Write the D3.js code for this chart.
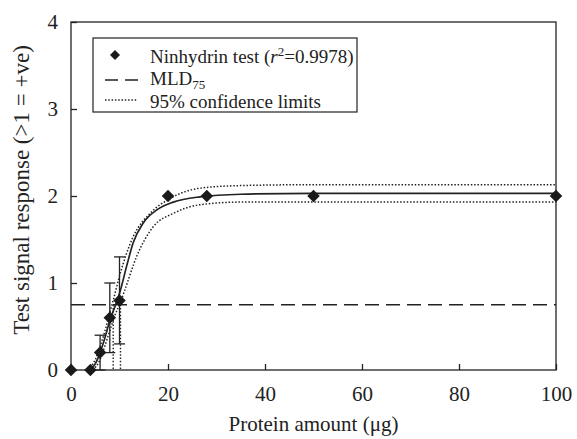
<!DOCTYPE html>
<html>
<head>
<meta charset="utf-8">
<script src="https://cdn.jsdelivr.net/npm/d3@7"></script>
<style>
  body { margin: 0; background: #fff; }
  .axis path, .axis line { stroke: #222; stroke-width: 1.3; }
</style>
</head>
<body>
<svg width="577" height="439"></svg>
<script>
// measured points (protein µg, response)
var protein = [0, 4, 6, 8, 10, 20, 28, 50, 100];
var response = [0, 0, 0.2, 0.6, 0.8, 2, 2, 2, 2];
var errX = [6, 8, 10];
var errMean = [0.2, 0.6, 0.8];
var errSd = [0.2, 0.4, 0.5];

// fitted curve and confidence limits
var fitX = [4, 5, 6, 7, 8, 9, 10, 11.5, 12.8, 14.9, 17.7, 21.1, 26.6, 35, 50, 100];
var fitY = [0, 0.07, 0.2, 0.37, 0.57, 0.72, 0.88, 1.2, 1.46, 1.69, 1.84, 1.93, 1.99, 2.02, 2.03, 2.03];
var upX = [3.5, 5, 6, 7, 8, 8.7, 10, 12.8, 16.3, 20.4, 26.6, 35, 50, 100];
var upY = [0, 0.12, 0.27, 0.45, 0.66, 0.8, 1.08, 1.53, 1.8, 1.97, 2.09, 2.12, 2.13, 2.13];
var loX = [4.5, 6, 7, 8, 9, 10.2, 11.1, 13.5, 17, 21.1, 26.6, 35, 50, 100];
var loY = [0, 0.12, 0.28, 0.45, 0.62, 0.78, 0.92, 1.3, 1.65, 1.8, 1.9, 1.93, 1.93, 1.93];

var mld = 0.75;
var mldDrops = [8.7, 10.2];

var xTicks = [0, 20, 40, 60, 80, 100];
var yTicks = [0, 1, 2, 3, 4];

var serif = "'Liberation Serif', serif";
var fs = 21;
var dots = "1.5,1.8";

var svg = d3.select("svg"),
    margin = {top: 22, right: 21, bottom: 69, left: 71},
    width = +svg.attr("width") - margin.left - margin.right,
    height = +svg.attr("height") - margin.top - margin.bottom,
    g = svg.append("g").attr("transform", "translate(" + margin.left + "," + margin.top + ")");

var x = d3.scaleLinear().domain([0, 100]).range([0, width]);
var y = d3.scaleLinear().domain([0, 4]).range([height, 0]);

// frame
g.append("rect")
    .attr("width", width)
    .attr("height", height)
    .attr("fill", "none")
    .attr("stroke", "#222")
    .attr("stroke-width", 1.3);

function styleAxis(s) {
  s.select(".domain").remove();
  s.selectAll("text")
      .style("font-family", serif)
      .style("font-size", fs + "px")
      .attr("fill", "#222");
}

g.append("g")
    .attr("class", "axis")
    .attr("transform", "translate(0," + height + ")")
    .call(d3.axisBottom(x).tickValues(xTicks).tickFormat(d3.format("d"))
        .tickSizeInner(-6).tickSizeOuter(0).tickPadding(16))
    .call(styleAxis);

g.append("g")
    .attr("class", "axis")
    .call(d3.axisLeft(y).tickValues(yTicks).tickFormat(d3.format("d"))
        .tickSizeInner(-6).tickSizeOuter(0).tickPadding(13))
    .call(styleAxis);

var line = d3.line()
    .x(function(d) { return x(d[0]); })
    .y(function(d) { return y(d[1]); })
    .curve(d3.curveMonotoneX);

// MLD75 line
g.append("line")
    .attr("x1", x(0)).attr("x2", x(100))
    .attr("y1", y(mld)).attr("y2", y(mld))
    .attr("stroke", "#222").attr("stroke-width", 1.4)
    .attr("stroke-dasharray", "14,7");

// drops to x axis
g.selectAll(".drop")
  .data(mldDrops)
  .enter().append("line")
    .attr("class", "drop")
    .attr("x1", function(d) { return x(d); })
    .attr("x2", function(d) { return x(d); })
    .attr("y1", y(mld))
    .attr("y2", y(0))
    .attr("stroke", "#222").attr("stroke-width", 1.4)
    .attr("stroke-dasharray", dots);

// confidence limits
[[upX, upY], [loX, loY]].forEach(function(c) {
  g.append("path")
      .datum(c[0].map(function(v, i) { return [v, c[1][i]]; }))
      .attr("d", line)
      .attr("fill", "none")
      .attr("stroke", "#222")
      .attr("stroke-width", 1.5)
      .attr("stroke-dasharray", dots);
});

// fitted curve
g.append("path")
    .datum(fitX.map(function(v, i) { return [v, fitY[i]]; }))
    .attr("d", line)
    .attr("fill", "none")
    .attr("stroke", "#222")
    .attr("stroke-width", 1.7);

// error bars
var eb = g.selectAll(".err")
  .data(errX.map(function(v, i) { return {x: v, lo: errMean[i] - errSd[i], hi: errMean[i] + errSd[i]}; }))
  .enter().append("g")
    .attr("class", "err")
    .attr("stroke", "#222")
    .attr("stroke-width", 1.3);

eb.append("line")
    .attr("x1", function(d) { return x(d.x); })
    .attr("x2", function(d) { return x(d.x); })
    .attr("y1", function(d) { return y(d.lo); })
    .attr("y2", function(d) { return y(d.hi); });
eb.append("line")
    .attr("x1", function(d) { return x(d.x) - 5.5; })
    .attr("x2", function(d) { return x(d.x) + 5.5; })
    .attr("y1", function(d) { return y(d.hi); })
    .attr("y2", function(d) { return y(d.hi); });
eb.append("line")
    .attr("x1", function(d) { return x(d.x) - 5.5; })
    .attr("x2", function(d) { return x(d.x) + 5.5; })
    .attr("y1", function(d) { return y(d.lo); })
    .attr("y2", function(d) { return y(d.lo); });

// points
var diamond = d3.symbol().type(d3.symbolSquare).size(78);
g.selectAll(".pt")
  .data(protein.map(function(v, i) { return [v, response[i]]; }))
  .enter().append("path")
    .attr("class", "pt")
    .attr("d", diamond)
    .attr("transform", function(d) { return "translate(" + x(d[0]) + "," + y(d[1]) + ") rotate(45)"; })
    .attr("fill", "#1a1a1a");

// legend
var lg = svg.append("g").attr("transform", "translate(93,38)");
lg.append("rect")
    .attr("width", 264).attr("height", 74)
    .attr("fill", "#fff").attr("stroke", "#222").attr("stroke-width", 1.2);

function legendText(yy) {
  return lg.append("text").attr("x", 57).attr("y", yy)
      .style("font-family", serif).style("font-size", "19px")
      .attr("fill", "#222");
}

lg.append("path")
    .attr("d", d3.symbol().type(d3.symbolSquare).size(50))
    .attr("transform", "translate(22,17) rotate(45)")
    .attr("fill", "#1a1a1a");
var t1 = legendText(25);
t1.append("tspan").text("Ninhydrin test (");
t1.append("tspan").style("font-style", "italic").text("r");
t1.append("tspan").style("font-size", "13px").attr("dy", -7).text("2");
t1.append("tspan").attr("dy", 7).text("=0.9978)");

lg.append("line")
    .attr("x1", 12).attr("x2", 45).attr("y1", 42).attr("y2", 42)
    .attr("stroke", "#222").attr("stroke-width", 1.4).attr("stroke-dasharray", "13,7");
var t2 = legendText(47);
t2.append("tspan").text("MLD");
t2.append("tspan").style("font-size", "13px").attr("dy", 4).text("75");

lg.append("line")
    .attr("x1", 12).attr("x2", 45).attr("y1", 62).attr("y2", 62)
    .attr("stroke", "#222").attr("stroke-width", 1.4).attr("stroke-dasharray", dots);
legendText(70).text("95% confidence limits");

// axis titles
svg.append("text")
    .attr("x", margin.left + width / 2)
    .attr("y", 431)
    .attr("text-anchor", "middle")
    .style("font-family", serif).style("font-size", fs + "px")
    .attr("fill", "#222")
    .text("Protein amount (\u03bcg)");

svg.append("text")
    .attr("transform", "translate(29,190) rotate(-90)")
    .attr("text-anchor", "middle")
    .style("font-family", serif).style("font-size", "23px")
    .attr("fill", "#222")
    .text("Test signal response (>1 = +ve)");
</script>
</body>
</html>
